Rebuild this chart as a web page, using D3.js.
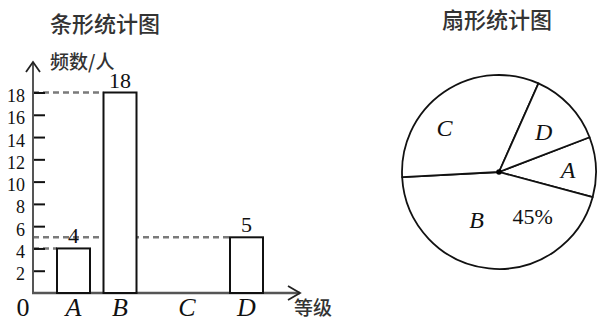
<!DOCTYPE html>
<html>
<head>
<meta charset="utf-8">
<script src="https://cdn.jsdelivr.net/npm/d3@7"></script>
<style>
  body { margin: 0; background: #fff; }
  svg { display: block; }
</style>
</head>
<body>
<svg id="chart" width="598" height="321"></svg>
<script>
// grades and counts (C is left blank in the bar chart)
const grades = ["A", "B", "C", "D"];
const barCounts = [4, 18, null, 5];
const pieCounts = [4, 18, 13, 5];
const yTicks = [2, 4, 6, 8, 10, 12, 14, 16, 18];
const guideValues = [18, 5, 4];

const serif = "'Liberation Serif', 'Times New Roman', serif";
const cjk = "'Noto Sans CJK SC', sans-serif";

const svg = d3.select("#chart");

// ---- bar chart ----
const x0 = 33, baseY = 293;
const y = d3.scaleLinear().domain([0, 18]).range([baseY, 92.5]);
// category centres (spacing in the picture is not even)
const x = d3.scaleLinear().domain([0, 1, 2, 3]).range([73.5, 120, 187, 246.5]);
const barW = 33;

const bar = svg.append("g");

// dashed guide lines
guideValues.forEach(v => {
  const idx = barCounts.indexOf(v);
  bar.append("line")
    .attr("x1", x0).attr("x2", x(idx) - barW / 2)
    .attr("y1", y(v)).attr("y2", y(v))
    .attr("stroke", "#7a7a7a").attr("stroke-width", 2.5)
    .attr("stroke-dasharray", "6,4");
});

// y axis
const yAxis = bar.append("g")
  .attr("transform", `translate(${x0},0)`)
  .call(d3.axisLeft(y).tickValues(yTicks).tickSize(-12).tickPadding(8));
yAxis.select(".domain").remove();
yAxis.selectAll(".tick line").attr("stroke", "#111").attr("stroke-width", 2);
yAxis.selectAll(".tick text")
  .attr("font-family", serif).attr("font-size", 18).attr("fill", "#111")
  .attr("dy", "0.5em");

// axis lines with arrows
bar.append("line").attr("x1", x0).attr("x2", x0).attr("y1", baseY + 1).attr("y2", 62)
  .attr("stroke", "#555").attr("stroke-width", 2);
bar.append("path").attr("d", "M26,72L33,62L40,72")
  .attr("fill", "none").attr("stroke", "#222").attr("stroke-width", 1.8);
bar.append("line").attr("x1", x0 - 1).attr("x2", 300).attr("y1", baseY).attr("y2", baseY)
  .attr("stroke", "#555").attr("stroke-width", 2.5);
bar.append("path").attr("d", "M288,286L300,293L288,300")
  .attr("fill", "none").attr("stroke", "#222").attr("stroke-width", 1.8);

// bars
const barData = grades.map((g, i) => ({ g, i, v: barCounts[i] })).filter(d => d.v != null);
bar.selectAll("rect.bar")
  .data(barData)
  .enter()
  .append("rect")
  .attr("class", "bar")
  .attr("x", d => x(d.i) - barW / 2)
  .attr("y", d => y(d.v))
  .attr("width", barW)
  .attr("height", d => baseY - y(d.v))
  .attr("fill", "#fff").attr("stroke", "#111").attr("stroke-width", 2);

// value labels
bar.selectAll("text.val")
  .data(barData)
  .enter()
  .append("text")
  .attr("class", "val")
  .attr("x", d => x(d.i))
  .attr("y", d => y(d.v) - 5)
  .attr("text-anchor", "middle")
  .attr("font-family", serif).attr("font-size", 22).attr("fill", "#111")
  .text(d => d.v);

// category labels
bar.selectAll("text.cat")
  .data(grades)
  .enter()
  .append("text")
  .attr("class", "cat")
  .attr("x", (d, i) => x(i))
  .attr("y", 316)
  .attr("text-anchor", "middle")
  .attr("font-family", serif).attr("font-style", "italic").attr("font-size", 26).attr("fill", "#111")
  .text(d => d);

bar.append("text").attr("x", 23).attr("y", 316).attr("text-anchor", "middle")
  .attr("font-family", serif).attr("font-size", 26).attr("fill", "#111").text("0");

// titles and axis names
svg.append("text").attr("x", 105).attr("y", 32).attr("text-anchor", "middle")
  .attr("font-family", cjk).attr("font-weight", 500).attr("font-size", 22).attr("fill", "#333").text("条形统计图");
svg.append("text").attr("x", 50).attr("y", 69)
  .attr("font-family", cjk).attr("font-weight", 500).attr("font-size", 19).attr("fill", "#333").text("频数/人");
svg.append("text").attr("x", 294).attr("y", 315)
  .attr("font-family", cjk).attr("font-weight", 500).attr("font-size", 19).attr("fill", "#333").text("等级");

// ---- pie chart ----
const cx = 499, cy = 172, r = 97;
const total = d3.sum(pieCounts);
const pieData = grades.map((g, i) => ({ g, v: pieCounts[i] }));
const arcs = d3.pie().sort(null).value(d => d.v)
  .startAngle(69 * Math.PI / 180)
  .endAngle(69 * Math.PI / 180 + 2 * Math.PI)(pieData);
const arc = d3.arc().innerRadius(0).outerRadius(r);

const pie = svg.append("g").attr("transform", `translate(${cx},${cy})`);
pie.selectAll("path")
  .data(arcs)
  .enter()
  .append("path")
  .attr("d", arc)
  .attr("fill", "#fff").attr("stroke", "#111").attr("stroke-width", 1.8)
  .attr("stroke-linejoin", "round");
pie.append("circle").attr("r", 2.8).attr("fill", "#000");

// label placement inside slices: [angle deg from north, distance]
const labelPlace = { A: [88, 69], B: [205, 53], C: [309, 70], D: [48, 60] };
const polar = (a, d) => [Math.sin(a * Math.PI / 180) * d, -Math.cos(a * Math.PI / 180) * d];

pie.selectAll("text.slice")
  .data(arcs)
  .enter()
  .append("text")
  .attr("class", "slice")
  .attr("transform", d => `translate(${polar(...labelPlace[d.data.g])})`)
  .attr("text-anchor", "middle").attr("dy", "0.35em")
  .attr("font-family", serif).attr("font-style", "italic").attr("font-size", 24).attr("fill", "#111")
  .text(d => d.data.g);

const bArc = arcs.find(d => d.data.g === "B");
pie.append("text")
  .attr("transform", `translate(${polar(143, 56)})`)
  .attr("text-anchor", "middle").attr("dy", "0.35em")
  .attr("font-family", serif).attr("font-size", 22).attr("fill", "#111")
  .text(d3.format(".0%")(bArc.data.v / total));

svg.append("text").attr("x", 497).attr("y", 28).attr("text-anchor", "middle")
  .attr("font-family", cjk).attr("font-weight", 500).attr("font-size", 22).attr("fill", "#333").text("扇形统计图");
</script>
</body>
</html>
